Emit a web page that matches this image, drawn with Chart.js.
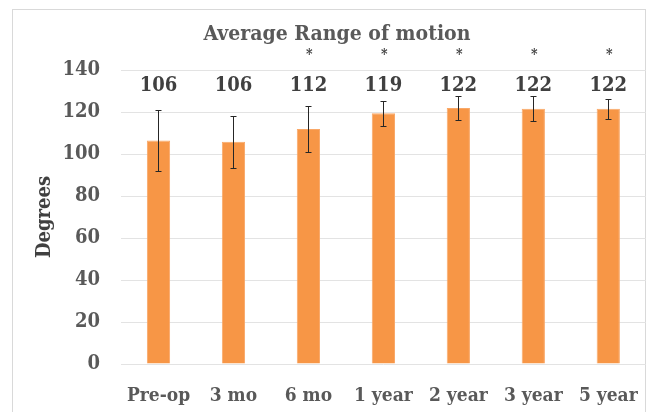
<!DOCTYPE html>
<html>
<head>
<meta charset="utf-8">
<script src="https://cdn.jsdelivr.net/npm/chart.js@4.4.1/dist/chart.umd.min.js"></script>
<style>
  html, body { margin: 0; padding: 0; background: #fff; }
  #wrap { position: relative; width: 651px; height: 412px; overflow: hidden; }
  #frame { position: absolute; left: 12px; top: 9px; width: 634px; height: 420px; border: 1px solid #d9d9d9; box-sizing: border-box; }
  canvas { position: absolute; left: 0; top: 0; }
</style>
</head>
<body>
<div id="wrap">
  <div id="frame"></div>
  <canvas id="romChart" width="651" height="412"></canvas>
</div>
<script>
// values
const categories = ['Pre-op', '3 mo', '6 mo', '1 year', '2 year', '3 year', '5 year'];
const meanDegrees = [106.4, 105.8, 111.9, 119.4, 121.9, 121.6, 121.6];
const sdDegrees = [14.4, 12.4, 11.1, 6.0, 5.7, 6.1, 4.8];
const significance = ['', '', '*', '*', '*', '*', '*'];
const yTicks = [0, 20, 40, 60, 80, 100, 120, 140];
const chartTitle = 'Average Range of motion';

const serif = "'DejaVu Serif Condensed', 'DejaVu Serif', serif";

// title, error bars, value labels and significance stars
const annotations = {
  id: 'annotations',
  afterDatasetsDraw(chart) {
    const ctx = chart.ctx;
    const y = chart.scales.y;
    const meta = chart.getDatasetMeta(0);
    ctx.save();
    ctx.fillStyle = '#595959';
    ctx.textAlign = 'center';
    ctx.textBaseline = 'middle';
    ctx.font = 'bold 21px ' + serif;
    ctx.fillText(chartTitle, 337, 35);

    meta.data.forEach((bar, i) => {
      const x = Math.round(bar.x) + 0.5;
      const top = Math.round(y.getPixelForValue(meanDegrees[i] + sdDegrees[i])) + 0.5;
      const bot = Math.round(y.getPixelForValue(meanDegrees[i] - sdDegrees[i])) + 0.5;
      ctx.strokeStyle = '#262626';
      ctx.lineWidth = 1;
      ctx.beginPath();
      ctx.moveTo(x, top); ctx.lineTo(x, bot);
      ctx.moveTo(x - 3, top); ctx.lineTo(x + 3, top);
      ctx.moveTo(x - 3, bot); ctx.lineTo(x + 3, bot);
      ctx.stroke();

      ctx.fillStyle = '#404040';
      ctx.textAlign = 'center';
      ctx.textBaseline = 'middle';
      ctx.font = 'bold 20px ' + serif;
      ctx.fillText(String(Math.round(meanDegrees[i])), bar.x, chart.chartArea.top + 16);

      if (significance[i]) {
        ctx.font = 'bold 14px ' + serif;
        ctx.textBaseline = 'alphabetic';
        ctx.fillText(significance[i], bar.x + 1, chart.chartArea.top - 11);
      }
    });
    ctx.restore();
  }
};

new Chart(document.getElementById('romChart'), {
  type: 'bar',
  data: {
    labels: categories,
    datasets: [{
      data: meanDegrees,
      backgroundColor: '#F79646',
      borderColor: '#F9A868',
      borderWidth: 1,
      barPercentage: 0.31,
      categoryPercentage: 1
    }]
  },
  options: {
    responsive: false,
    animation: false,
    layout: { padding: { left: 0, right: 5, top: 70, bottom: 0 } },
    plugins: {
      legend: { display: false },
      tooltip: { enabled: false },
      title: { display: false }
    },
    scales: {
      x: {
        grid: { display: false },
        border: { display: false },
        ticks: { color: '#595959', font: { family: serif, size: 19, weight: 'bold' }, padding: 13, maxRotation: 0, autoSkip: false },
        afterFit(scale) { scale.height = 48; }
      },
      y: {
        min: 0,
        max: 140,
        afterBuildTicks(scale) { scale.ticks = yTicks.map(v => ({ value: v })); },
        grid: { color: '#e3e3e3', drawTicks: false },
        border: { display: false },
        ticks: { color: '#595959', font: { family: serif, size: 20, weight: 'bold' }, padding: 21 },
        title: {
          display: true,
          text: 'Degrees',
          color: '#404040',
          font: { family: serif, size: 20, weight: 'bold' },
          padding: { top: 33, bottom: 0 }
        },
        afterFit(scale) { scale.width = 121; }
      }
    }
  },
  plugins: [annotations]
});
</script>
</body>
</html>
